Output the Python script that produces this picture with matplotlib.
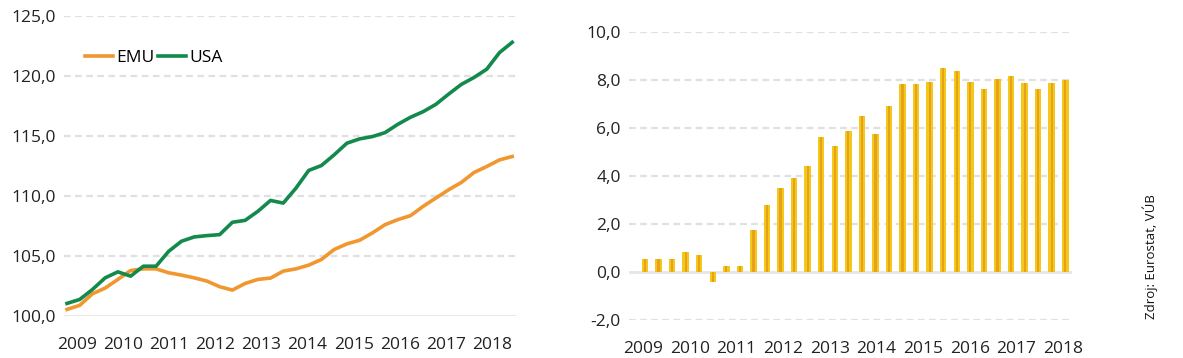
import numpy as np
import matplotlib
matplotlib.use("Agg")
import matplotlib.pyplot as plt

plt.rcParams['font.family'] = ['Open Sans', 'DejaVu Sans']

# left chart: index levels (quarterly)
emu = [100.55, 100.89, 101.85, 102.33, 103.05, 103.79, 103.93, 103.93, 103.60, 103.41,
       103.18, 102.91, 102.44, 102.16, 102.71, 103.05, 103.16, 103.74, 103.93, 104.24,
       104.71, 105.54, 106.01, 106.31, 106.92, 107.61, 108.03, 108.36, 109.14, 109.83,
       110.52, 111.13, 111.96, 112.46, 113.01, 113.29]
usa = [101.05, 101.38, 102.21, 103.18, 103.68, 103.32, 104.15, 104.15, 105.40, 106.23,
       106.59, 106.70, 106.78, 107.81, 107.97, 108.72, 109.63, 109.41, 110.66, 112.13,
       112.54, 113.43, 114.40, 114.76, 114.95, 115.28, 115.97, 116.56, 117.03, 117.64,
       118.49, 119.30, 119.88, 120.57, 121.95, 122.81]

# right chart: bars
diff = [0.56, 0.56, 0.56, 0.85, 0.72, -0.42, 0.26, 0.26, 1.76, 2.80,
        3.51, 3.93, 4.43, 5.64, 5.26, 5.88, 6.50, 5.76, 6.92, 7.83,
        7.83, 7.93, 8.50, 8.38, 7.93, 7.64, 8.06, 8.17, 7.89, 7.64,
        7.89, 8.01]

years = ['2009', '2010', '2011', '2012', '2013', '2014', '2015', '2016', '2017', '2018']
left_yticks = [100, 105, 110, 115, 120, 125]
right_yticks = [-2, 0, 2, 4, 6, 8, 10]

c_emu = '#F0972F'
c_usa = '#138A4C'
c_bar = '#F3C81B'
c_bar_mid = '#E8A11A'
c_grid = '#E0E0E2'

fig = plt.figure(figsize=(11.83, 3.58), dpi=100)


def fmt(v):
    return ('%.1f' % v).replace('.', ',')


def style(ax, yticks, base):
    for s in ax.spines.values():
        s.set_visible(False)
    ax.set_yticks(yticks)
    ax.set_yticklabels([fmt(v) for v in yticks])
    ax.tick_params(length=0, labelsize=12.5, colors='#222222', pad=6)
    for v in yticks:
        if v == base:
            ax.axhline(v, color='#E6E6E8', lw=2, zorder=0)
        else:
            ax.axhline(v, color=c_grid, lw=1.6, ls=(0, (3, 2)), zorder=0)


# left
ax1 = fig.add_axes([0.0545, 0.1173, 0.3817, 0.838])
x1 = np.arange(len(emu))
ax1.plot(x1, emu, color=c_emu, lw=2.6, label='EMU')
ax1.plot(x1, usa, color=c_usa, lw=2.6, label='USA')
ax1.set_xlim(-0.2, len(emu) - 0.7)
ax1.set_ylim(100, 125)
style(ax1, left_yticks, 100)
ax1.set_xticks(np.linspace(0.8, 33.4, len(years)))
ax1.set_xticklabels(years)
ax1.tick_params(axis='x', pad=15)
ax1.legend(loc='upper left', bbox_to_anchor=(0.03, 0.91), ncol=2, frameon=False,
           fontsize=12.5, handlelength=1.6, handletextpad=0.2, columnspacing=0.2,
           borderaxespad=0)

# right
ax2 = fig.add_axes([0.5317, 0.106, 0.3745, 0.8045])
x2 = np.arange(len(diff))
ax2.bar(x2, diff, width=0.48, color=c_bar, zorder=2)
ax2.bar(x2, diff, width=0.16, color=c_bar_mid, zorder=3)
ax2.set_xlim(-1.18, 31.5)
ax2.set_ylim(-2, 10)
style(ax2, right_yticks, 0)
ax2.set_xticks(np.linspace(-0.15, 30.85, len(years)))
ax2.set_xticklabels(years)
ax2.tick_params(axis='x', pad=15)

fig.text(0.972, 0.108, 'Zdroj: Eurostat, VÚB', rotation=90, fontsize=9.5,
         ha='center', va='bottom', color='#111111')

fig.savefig('out.png', dpi=100)
